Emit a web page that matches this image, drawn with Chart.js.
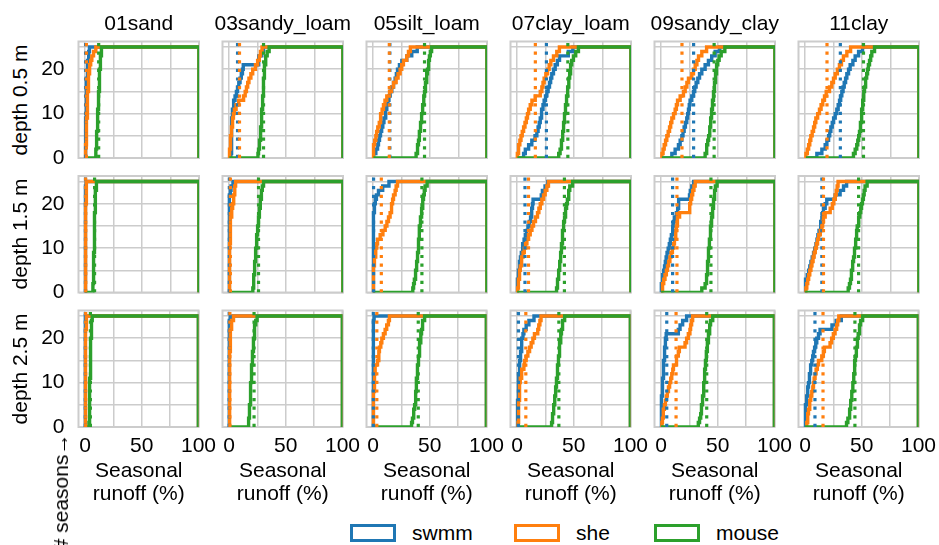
<!DOCTYPE html>
<html>
<head>
<meta charset="utf-8">
<script src="https://cdn.jsdelivr.net/npm/chart.js@4"></script>
<style>
  body { margin: 0; background: #fff; }
  #fig { position: relative; width: 939px; height: 545px; overflow: hidden;
         font-family: "Liberation Sans", Arial, sans-serif; color: #000; background: #fff; }
  #fig canvas { position: absolute; }
  .t { position: absolute; font-size: 21px; line-height: 24px; white-space: nowrap; }
</style>
</head>
<body>
<div id="fig"></div>
<script>
// ---- categories and labels ----
const soilTypes = ['01sand', '03sandy_loam', '05silt_loam', '07clay_loam', '09sandy_clay', '11clay'];
const depthLabels = ['depth 0.5 m', 'depth 1.5 m', 'depth 2.5 m'];
const modelNames = ['swmm', 'she', 'mouse'];
const modelColors = ['#1f77b4', '#ff7f0e', '#2ca02c'];
const xTickValues = [0, 25, 50, 75, 100];
const yTickValues = [0, 5, 10, 15, 20, 25];
const seasonCount = 25;
const runoffMax = 100;

// ---- sorted seasonal runoff (%) per soil type, depth 0.5 m ----
const swmm_d05 = [
  [0.2,0.3,0.4,0.5,0.5,0.6,0.7,0.8,0.8,0.9,1.0,1.0,1.1,1.2,1.3,1.4,1.5,1.6,1.8,2.0,2.3,2.6,3.0,3.4,3.9],
  [1.6,1.8,2.0,2.1,2.2,2.3,2.4,2.5,2.6,2.8,3.1,3.6,4.3,5.3,6.5,7.5,8.6,9.7,10.8,11.8,12.5,25.8,26.2,28.8,30.2],
  [0.6,2.5,4.0,4.8,5.7,6.6,7.6,8.6,9.6,10.7,11.4,12.1,13.1,14.0,15.0,16.5,18.0,19.4,20.5,21.5,23.2,25.3,29.6,34.0,38.8],
  [5.8,7.3,10.2,13.0,15.8,17.4,18.5,19.5,20.4,21.1,21.8,22.8,23.8,25.0,26.2,27.3,28.5,29.5,30.5,32.0,33.5,35.4,37.3,45.0,49.0],
  [9.5,12.4,15.3,16.8,18.3,19.3,20.3,21.4,22.6,23.4,24.1,24.8,25.5,27.0,28.5,29.6,30.8,32.3,33.8,35.8,38.7,41.6,44.5,47.5,51.5],
  [10.4,14.8,17.7,19.2,20.7,21.7,22.7,23.9,25.1,26.5,27.9,29.1,30.3,31.3,32.3,33.4,34.4,35.6,36.7,38.2,39.6,42.0,44.0,47.0,50.5]
];
const she_d05 = [
  [0.3,0.5,0.7,0.9,1.0,1.2,1.3,1.5,1.6,1.8,1.9,2.0,2.2,2.3,2.5,2.7,2.9,3.1,3.4,3.7,4.2,5.0,6.0,7.5,9.5],
  [0.3,0.6,0.9,1.2,1.6,1.9,2.3,2.8,3.3,3.9,4.8,6.2,8.5,12.8,14.2,15.3,16.4,17.5,19.2,20.8,23.2,25.1,26.6,27.6,29.0],
  [0.3,0.5,0.6,1.5,2.5,3.2,4.2,5.5,6.2,6.9,8.0,9.2,10.5,12.1,14.5,16.2,18.0,20.3,22.0,23.8,25.2,26.7,29.6,31.1,32.8],
  [0.3,1.0,1.6,2.5,3.5,4.6,5.8,7.0,8.2,9.2,10.2,11.6,13.1,16.0,20.4,21.8,22.8,23.8,25.3,26.8,28.2,29.7,32.0,34.9,37.2],
  [0.8,1.8,2.8,4.0,5.1,6.3,7.5,8.5,9.5,11.0,12.4,13.5,14.5,16.8,19.7,21.2,22.7,24.1,27.0,28.5,30.0,31.5,32.9,35.8,40.0],
  [0.8,2.0,3.2,4.2,5.1,6.3,7.5,8.5,9.5,11.1,12.7,14.1,15.6,17.1,18.6,21.5,23.5,25.0,26.5,28.4,30.2,32.0,33.7,36.7,40.0]
];
const mouse_d05 = [
  [9.3,9.6,9.9,10.0,10.2,10.5,10.6,10.8,11.1,11.2,11.4,11.5,11.8,11.9,12.1,12.3,12.4,12.7,12.9,13.0,13.2,13.5,13.7,14.1,14.6],
  [25.4,25.9,26.4,26.9,27.3,27.7,27.9,28.2,28.4,28.7,28.9,29.2,29.4,29.7,29.9,30.1,30.3,30.5,30.8,31.0,31.3,31.8,32.4,33.5,35.2],
  [37.8,38.6,39.3,39.9,40.4,40.8,41.3,41.9,42.3,42.8,43.2,43.7,44.2,44.7,45.2,45.7,46.2,46.8,47.3,47.8,48.4,49.0,49.5,50.3,51.4],
  [36.6,37.8,38.6,39.2,39.8,40.2,40.6,41.0,41.4,41.8,42.2,42.7,43.2,43.6,44.1,44.6,45.1,45.6,46.2,46.7,47.2,48.0,49.5,51.5,53.9],
  [38.7,39.6,40.3,41.0,41.8,42.5,42.9,43.3,43.7,44.1,44.5,44.9,45.3,45.8,46.2,46.6,47.1,47.5,48.0,48.5,48.9,49.8,51.0,52.8,56.0],
  [42.5,44.0,45.4,46.3,47.1,47.8,48.3,48.8,49.2,49.6,50.0,50.4,50.7,51.2,51.7,52.2,52.7,53.4,54.1,54.9,55.6,56.6,57.6,58.6,61.0]
];

// ---- depth 1.5 m ----
const swmm_d15 = [
  [0.1,0.1,0.2,0.2,0.2,0.2,0.3,0.3,0.3,0.3,0.3,0.4,0.4,0.4,0.4,0.5,0.5,0.5,0.5,0.6,0.6,0.7,0.7,0.8,1.0],
  [0.1,0.1,0.1,0.2,0.2,0.2,0.2,0.2,0.3,0.3,0.3,0.3,0.3,0.4,0.4,0.4,0.4,0.5,0.5,0.5,0.6,0.8,1.2,1.8,3.5],
  [0.1,0.1,0.2,0.2,0.2,0.3,0.3,0.3,0.4,0.4,0.4,0.5,0.5,0.5,0.6,0.6,0.7,0.8,1.0,1.4,2.0,3.0,4.8,8.5,14.0],
  [0.1,0.3,0.6,0.9,1.4,1.9,2.3,3.0,3.8,4.5,5.2,6.2,7.3,8.4,9.6,10.8,11.9,12.5,13.1,13.6,14.1,21.3,22.3,24.6,27.0],
  [0.1,0.5,0.9,1.6,2.4,3.1,3.8,4.5,5.3,6.3,7.3,8.2,9.1,9.8,10.5,11.1,11.7,13.5,14.6,15.2,15.6,25.0,25.7,27.0,28.6],
  [0.1,0.5,0.8,2.0,3.2,4.2,5.2,6.3,7.5,8.5,9.6,10.5,11.3,12.3,13.3,14.0,14.8,15.5,16.2,17.7,19.1,26.5,30.8,33.8,36.5]
];
const she_d15 = [
  [0.2,0.2,0.3,0.3,0.3,0.4,0.4,0.4,0.5,0.5,0.5,0.5,0.6,0.6,0.6,0.7,0.7,0.7,0.8,0.8,0.9,1.0,1.1,1.3,1.6],
  [0.2,0.3,0.4,0.4,0.5,0.5,0.6,0.6,0.7,0.7,0.8,0.9,1.0,1.1,1.2,1.4,1.7,2.0,2.6,3.2,3.8,4.3,4.8,5.2,5.8],
  [0.2,0.3,0.3,0.4,0.5,0.7,1.0,1.4,2.0,2.6,3.3,4.0,6.3,8.7,10.7,12.2,13.6,15.0,15.8,16.5,17.2,18.0,19.4,20.3,21.5],
  [0.5,0.9,1.4,1.9,2.4,2.9,3.6,4.3,5.3,6.4,7.5,8.7,10.1,11.6,13.1,14.5,16.2,18.0,19.2,20.4,21.8,23.3,24.7,26.2,27.6],
  [0.9,1.6,2.4,3.5,4.7,5.7,6.7,7.8,8.8,10.0,11.1,11.8,12.6,13.1,13.5,14.1,14.6,16.3,24.8,25.4,26.0,26.9,27.8,28.9,30.0],
  [0.8,1.6,2.4,3.2,4.2,5.2,6.1,7.1,8.0,9.0,10.0,11.0,12.0,13.4,14.8,15.5,16.2,17.7,22.1,24.0,25.3,26.5,27.4,28.2,29.0]
];
const mouse_d15 = [
  [6.8,7.0,7.2,7.3,7.4,7.5,7.6,7.7,7.8,7.9,8.0,8.1,8.2,8.3,8.4,8.5,8.6,8.7,8.8,8.9,9.0,9.2,9.4,9.7,10.2],
  [20.9,21.3,21.6,21.9,22.2,22.4,22.7,23.0,23.3,23.6,23.8,24.2,24.5,24.9,25.2,25.6,26.0,26.4,26.8,27.2,27.6,28.1,28.6,29.2,30.3],
  [34.9,35.6,36.3,37.0,37.5,38.0,38.4,38.8,39.2,39.6,39.9,40.1,40.4,40.6,40.8,41.3,41.8,42.3,42.8,43.3,43.8,44.3,45.0,45.7,47.5],
  [34.7,35.2,35.7,36.2,36.7,37.2,37.6,38.0,38.4,38.8,39.1,39.5,39.8,40.2,40.5,41.1,41.7,42.2,42.8,43.5,44.2,44.9,45.6,46.3,48.8],
  [35.8,38.7,39.5,40.2,40.5,40.8,41.0,41.3,41.6,41.9,42.2,42.6,43.0,43.3,43.7,44.1,44.5,45.0,45.4,45.8,46.2,46.6,47.2,47.7,49.2],
  [37.9,39.0,39.9,40.4,40.9,41.4,42.0,42.6,43.1,43.6,44.1,44.6,45.0,45.4,45.8,46.6,47.3,48.1,48.9,49.6,50.4,51.2,51.9,52.7,54.5]
];

// ---- depth 2.5 m ----
const swmm_d25 = [
  [0.1,0.1,0.1,0.1,0.2,0.2,0.2,0.2,0.2,0.2,0.3,0.3,0.3,0.3,0.3,0.3,0.4,0.4,0.4,0.4,0.5,0.5,0.5,0.6,0.7],
  [0.1,0.1,0.1,0.1,0.1,0.1,0.2,0.2,0.2,0.2,0.2,0.2,0.2,0.3,0.3,0.3,0.3,0.3,0.4,0.4,0.4,0.5,0.6,0.8,1.2],
  [0.1,0.1,0.1,0.2,0.2,0.2,0.2,0.2,0.3,0.3,0.3,0.3,0.3,0.4,0.4,0.4,0.4,0.5,0.5,0.5,0.6,0.6,0.7,0.8,1.0],
  [0.1,0.2,0.4,0.6,0.8,0.9,1.0,1.1,1.3,1.4,1.5,1.7,2.0,2.3,2.6,2.9,3.3,3.8,4.1,4.4,5.3,6.1,8.1,10.5,15.0],
  [0.1,0.2,0.3,0.4,0.5,0.6,0.8,1.0,1.2,1.4,1.6,1.8,2.0,2.3,2.6,2.8,3.1,3.4,3.7,4.0,4.6,15.3,16.8,19.1,22.6],
  [0.1,0.2,0.3,0.6,0.9,1.2,1.6,2.1,2.6,3.1,3.6,4.1,4.5,5.2,6.0,6.8,7.5,8.5,9.5,10.4,11.9,13.3,23.8,27.5,32.0]
];
const she_d25 = [
  [0.2,0.2,0.3,0.3,0.3,0.3,0.4,0.4,0.4,0.4,0.5,0.5,0.5,0.5,0.6,0.6,0.6,0.7,0.7,0.8,0.8,0.9,1.0,1.2,1.5],
  [0.3,0.3,0.4,0.4,0.4,0.5,0.5,0.5,0.6,0.6,0.6,0.7,0.7,0.8,0.8,0.9,0.9,1.0,1.1,1.2,1.3,1.5,1.8,2.6,4.0],
  [0.1,0.2,0.3,0.3,0.4,0.5,0.6,0.8,1.0,1.2,1.4,1.6,1.8,2.0,4.0,4.9,5.3,5.7,6.9,7.8,9.2,10.7,12.1,13.6,14.5],
  [0.9,1.1,1.3,1.4,1.5,1.7,1.9,2.1,2.3,2.6,2.9,3.6,4.4,6.1,6.7,8.1,9.6,11.1,12.5,14.0,15.4,18.3,19.2,20.2,21.2],
  [0.8,1.3,1.8,2.2,3.0,3.9,4.7,5.6,6.6,7.6,8.6,9.5,10.4,11.0,13.3,13.9,15.3,16.2,21.2,22.6,24.1,25.5,26.1,27.0,27.9],
  [1.6,2.1,2.6,3.1,3.8,4.4,5.1,6.0,6.9,7.5,8.1,8.9,9.8,10.9,11.9,14.8,16.2,17.1,22.1,23.5,25.0,26.5,27.9,28.8,29.8]
];
const mouse_d25 = [
  [3.5,3.6,3.7,3.8,3.9,4.0,4.1,4.2,4.3,4.3,4.4,4.5,4.6,4.7,4.8,4.9,5.0,5.1,5.2,5.3,5.4,5.6,5.8,6.0,6.4],
  [17.1,17.4,17.7,18.0,18.3,18.6,18.8,19.0,19.2,19.3,19.5,19.7,19.9,20.2,20.4,20.6,20.9,21.2,21.5,21.8,22.1,22.4,22.9,23.6,24.8],
  [34.0,34.8,35.5,36.1,36.7,37.2,37.6,37.8,38.0,38.2,38.4,38.8,39.1,39.5,39.9,40.2,40.6,41.0,41.3,41.8,42.3,42.8,43.3,43.9,45.5],
  [30.5,31.0,31.5,32.0,32.5,33.0,33.4,33.8,34.2,34.6,34.9,35.3,35.6,36.0,36.3,36.7,37.1,37.4,37.8,38.3,38.7,39.2,39.7,40.4,42.0],
  [32.9,34.0,35.0,35.4,35.8,36.3,36.8,37.3,37.6,37.9,38.1,38.4,38.7,39.0,39.3,39.7,40.1,40.6,41.0,41.5,42.0,42.5,43.1,43.7,45.6],
  [36.6,37.8,39.0,39.5,40.0,40.4,40.9,41.4,41.9,42.3,42.7,43.1,43.4,43.7,44.0,44.5,45.0,45.4,45.9,46.4,46.9,47.6,48.3,49.0,50.8]
];

// ---- reference runoff (%) per model, drawn as dotted verticals: [depth][soil] ----
const swmm_ref = [
  [0.5, 7.5, 14.8, 25.8, 28.6, 31.0],
  [0.4, 0.3, 0.5, 7.0, 10.2, 14.8],
  [0.3, 0.2, 0.3, 1.3, 5.1, 8.8]
];
const she_ref = [
  [1.2, 9.2, 14.3, 16.1, 18.4, 19.3],
  [0.6, 1.2, 7.3, 10.1, 14.0, 16.2],
  [0.6, 0.8, 3.4, 7.8, 13.3, 15.9]
];
const mouse_ref = [
  [12.0, 30.3, 45.2, 44.6, 46.6, 51.3],
  [8.4, 25.9, 42.9, 41.6, 43.8, 47.0],
  [4.8, 22.1, 39.9, 36.9, 40.3, 44.0]
];

// lookup tables built from the arrays above
const runoff = [[swmm_d05, she_d05, mouse_d05], [swmm_d15, she_d15, mouse_d15], [swmm_d25, she_d25, mouse_d25]];
const refs = [swmm_ref, she_ref, mouse_ref];

// ---- layout ----
const FONT = '"Liberation Sans", Arial, sans-serif';
const PANEL_W = 120.5, PANEL_H = 116.5;
const colLeft = c => 78.5 + 144 * c;
const rowTop = [41.5, 176, 310.5];
const Y_AXIS_W = 44, X_AXIS_H = 44, PAD_R = 24, PAD_T = 30;
const X_MIN = -5.7;
const Y_MAX = seasonCount * 1.05;
const GRID = '#cccccc';

const fig = document.getElementById('fig');

// axes frame, drawn under the data
const framePlugin = {
  id: 'frame',
  beforeDatasetsDraw(chart) {
    const { ctx, chartArea: a } = chart;
    ctx.save();
    ctx.strokeStyle = GRID;
    ctx.lineWidth = 2;
    ctx.strokeRect(a.left, a.top, a.right - a.left, a.bottom - a.top);
    ctx.restore();
  }
};

// cumulative step outline: one step per season, closed down at the right edge
function stepPoints(values, lo) {
  const sorted = values.slice().sort((a, b) => a - b);
  const pts = [{ x: lo, y: 0 }];
  sorted.forEach((v, i) => { pts.push({ x: v, y: i }); pts.push({ x: v, y: i + 1 }); });
  pts.push({ x: runoffMax, y: sorted.length });
  pts.push({ x: runoffMax, y: 0 });
  return pts;
}

function makePanel(r, c) {
  const cLeft = Math.floor(colLeft(c)) - Y_AXIS_W;
  const padL = colLeft(c) - cLeft - Y_AXIS_W;
  const cTop = Math.floor(rowTop[r]) - PAD_T;
  const padT = rowTop[r] - cTop;
  const width = Math.ceil(Y_AXIS_W + padL + PANEL_W + PAD_R);
  const padR = width - (Y_AXIS_W + padL + PANEL_W);
  const height = Math.ceil(padT + PANEL_H + X_AXIS_H);
  const padB = height - (padT + PANEL_H + X_AXIS_H);

  const cv = document.createElement('canvas');
  cv.width = width; cv.height = height;
  cv.style.left = cLeft + 'px'; cv.style.top = cTop + 'px';
  cv.style.width = width + 'px'; cv.style.height = height + 'px';
  fig.appendChild(cv);

  const series = runoff[r].map(m => m[c]);
  const lo = Math.min(...series.map(s => Math.min(...s)));

  const datasets = [];
  modelNames.forEach((name, m) => {
    datasets.push({
      label: name,
      data: stepPoints(series[m], lo),
      borderColor: modelColors[m],
      borderWidth: 3.4,
      pointRadius: 0,
      fill: false,
      clip: 0,
      order: 6 - m
    });
  });
  modelNames.forEach((name, m) => {
    const xr = refs[m][r][c];
    datasets.push({
      label: name + ' ref',
      data: [{ x: xr, y: 0 }, { x: xr, y: Y_MAX }],
      borderColor: modelColors[m],
      borderWidth: 3.2,
      borderDash: [3.2, 5.4],
      borderCapStyle: 'butt',
      pointRadius: 0,
      fill: false,
      clip: 0,
      order: 3 - m
    });
  });

  const tickFont = { family: FONT, size: 21 };
  new Chart(cv, {
    type: 'line',
    data: { datasets },
    options: {
      responsive: false,
      animation: false,
      devicePixelRatio: 1,
      layout: { padding: { left: padL, right: padR, top: padT, bottom: padB } },
      plugins: { legend: { display: false }, tooltip: { enabled: false } },
      elements: { line: { tension: 0 } },
      scales: {
        x: {
          type: 'linear', min: X_MIN, max: runoffMax,
          afterBuildTicks: ax => { ax.ticks = xTickValues.map(v => ({ value: v })); },
          afterFit: ax => { ax.height = X_AXIS_H; },
          grid: { color: GRID, lineWidth: 1.5, drawTicks: false },
          border: { display: false },
          ticks: {
            display: r === depthLabels.length - 1, padding: 7, color: '#000', font: tickFont,
            autoSkip: false, maxRotation: 0,
            callback: v => (v % 50 === 0 ? String(v) : '')
          }
        },
        y: {
          type: 'linear', min: 0, max: Y_MAX,
          afterBuildTicks: ax => { ax.ticks = yTickValues.map(v => ({ value: v })); },
          afterFit: ax => { ax.width = Y_AXIS_W; },
          grid: { color: GRID, lineWidth: 1.5, drawTicks: false },
          border: { display: false },
          ticks: {
            display: c === 0, padding: 14, color: '#000', font: tickFont,
            autoSkip: false,
            callback: v => (v % 10 === 0 ? String(v) : '')
          }
        }
      }
    },
    plugins: [framePlugin]
  });
}

for (let r = 0; r < depthLabels.length; r++)
  for (let c = 0; c < soilTypes.length; c++) makePanel(r, c);

// ---- text ----
function addText(html, css) {
  const d = document.createElement('div');
  d.className = 't';
  d.innerHTML = html;
  Object.assign(d.style, css);
  fig.appendChild(d);
  return d;
}
soilTypes.forEach((s, c) => {
  const cx = colLeft(c) + PANEL_W / 2;
  addText(s, { left: cx + 'px', top: '11px', transform: 'translateX(-50%)' });
  addText('Seasonal<br>runoff (%)', { left: cx + 'px', top: '458px', transform: 'translateX(-50%)',
    textAlign: 'center', lineHeight: '23px' });
});
depthLabels.forEach((d, r) => {
  addText(d, { left: '19.5px', top: (rowTop[r] + PANEL_H / 2) + 'px',
    transform: 'translate(-50%, -50%) rotate(-90deg)' });
});
addText('# seasons\u2192', { left: '61px', top: '492px', transform: 'translate(-50%, -50%) rotate(-90deg)' });

// legend
const legendX = [350, 514, 654];
modelNames.forEach((name, m) => {
  const box = document.createElement('div');
  Object.assign(box.style, { position: 'absolute', left: legendX[m] + 'px', top: '524px', width: '46px', height: '18px',
    boxSizing: 'border-box', border: '3px solid ' + modelColors[m] });
  fig.appendChild(box);
  addText(name, { left: (legendX[m] + 62) + 'px', top: '521px' });
});
</script>
</body>
</html>
